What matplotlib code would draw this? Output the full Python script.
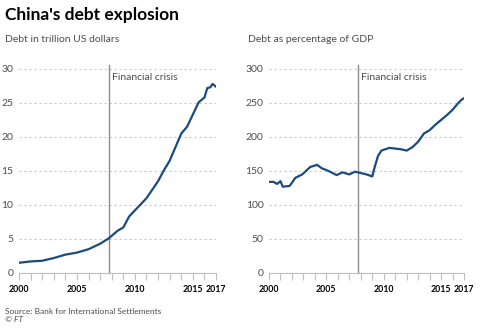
import matplotlib
matplotlib.use("Agg")
from matplotlib import pyplot as plt
from matplotlib.ticker import MultipleLocator

plt.rcParams['font.family'] = ['Lato', 'DejaVu Sans']

# debt in trillion US dollars
years_usd = [2000, 2001, 2002, 2003, 2004, 2005, 2006, 2007, 2007.75, 2008.5, 2009,
             2009.5, 2010, 2011, 2012, 2012.5, 2013, 2014, 2014.5, 2015, 2015.5,
             2016, 2016.25, 2016.5, 2016.7, 2017]
debt_usd = [1.5, 1.7, 1.8, 2.2, 2.7, 3.0, 3.5, 4.3, 5.1, 6.2, 6.7,
            8.3, 9.2, 11.0, 13.5, 15.1, 16.5, 20.5, 21.5, 23.3, 25.1,
            25.8, 27.2, 27.3, 27.8, 27.4]

# debt as percentage of GDP
years_gdp = [2000, 2000.4, 2000.7, 2001.0, 2001.2, 2001.8, 2002.3, 2002.9, 2003.6, 2004.2,
             2004.6, 2005.2, 2005.9, 2006.4, 2007.0, 2007.5, 2008.0, 2008.5, 2009.0, 2009.2,
             2009.5, 2009.8, 2010.5, 2011.0, 2011.5, 2012.0, 2012.5, 2013.0, 2013.5, 2014.0,
             2014.5, 2015.0, 2015.5, 2016.0, 2016.5, 2016.8, 2017.0]
debt_gdp = [134, 134, 131, 135, 127, 128, 140, 145, 156, 159,
            154, 150, 144, 148, 145, 149, 147, 145, 142, 155,
            172, 180, 184, 183, 182, 180, 185, 193, 205, 210,
            218, 225, 232, 240, 250, 255, 257]

crisis = 2007.75
line_col = '#1b4a7c'
grey = '#4d4d4d'

fig = plt.figure(figsize=(4.8, 3.29), dpi=100)
fig.patch.set_facecolor('white')

H = 329.0
panels = [
    (19, 216, years_usd, debt_usd, 30, 5, 'Debt in trillion US dollars', 5),
    (269, 464, years_gdp, debt_gdp, 300, 50, 'Debt as percentage of GDP', 248),
]

for x0, x1, xs, ys, ymax, step, sub, subx in panels:
    ax = fig.add_axes([x0 / 480, 1 - 273 / H, (x1 - x0) / 480, (273 - 69) / H])
    ax.plot(xs, ys, color=line_col, lw=1.6, solid_joinstyle='round', zorder=3)
    ax.set_xlim(2000, 2017)
    ax.set_ylim(0, ymax)
    ax.axvline(crisis, ymin=0, ymax=1.02, color='#8c8c8c', lw=1, clip_on=False, zorder=2)
    ax.text(crisis + 0.3, ymax * 0.96, 'Financial crisis', fontsize=7.5, color=grey,
            va='center', ha='left')
    ax.yaxis.set_major_locator(MultipleLocator(step))
    ax.grid(axis='y', color='#c8c8c8', lw=0.8, linestyle=(0, (2, 2.5)))
    for s in ['top', 'right', 'left']:
        ax.spines[s].set_visible(False)
    ax.spines['bottom'].set_color('#bfbfbf')
    ax.set_xticks([2000, 2005, 2010, 2015, 2017])
    ax.set_xticks(range(2000, 2018), minor=True)
    ax.tick_params(axis='x', which='both', length=5, color='#bfbfbf', width=0.8,
                   labelsize=6.3, pad=3.5)
    for lab in ax.get_xticklabels():
        lab.set_fontweight('bold')
    ax.tick_params(axis='y', length=0, labelsize=7.5, labelcolor=grey, pad=4)
    ax.set_axisbelow(True)
    fig.text(subx / 480, 1 - 40 / H, sub, fontsize=7.5, color=grey, va='center', ha='left')

fig.text(5 / 480, 1 - 15 / H, "China's debt explosion", fontsize=12.5, fontweight='bold',
         color='black', va='center', ha='left')
fig.text(5 / 480, 1 - 311 / H, 'Source: Bank for International Settlements', fontsize=6,
         color=grey, va='center', ha='left')
fig.text(5 / 480, 1 - 320 / H, '© FT', fontsize=6, color=grey, va='center', ha='left',
         style='italic')

fig.savefig('out.png', dpi=100)
